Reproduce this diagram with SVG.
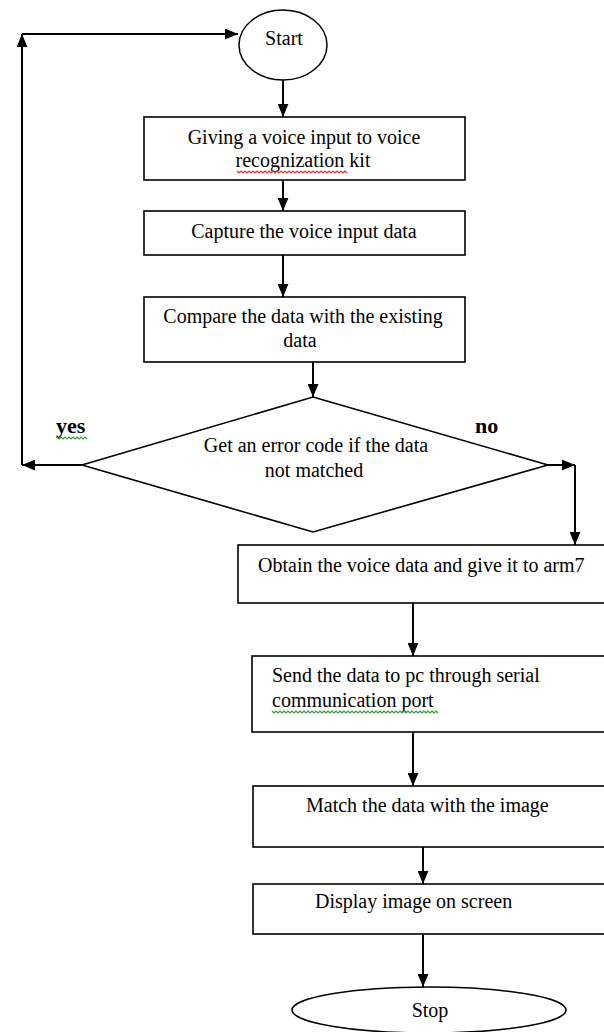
<svg xmlns="http://www.w3.org/2000/svg" width="604" height="1032" viewBox="0 0 604 1032">
  <style>
    .box { fill: #fff; stroke: #000; stroke-width: 1.6; }
    .term { fill: #fff; stroke: #000; stroke-width: 1.5; }
    .t { font-family: "Liberation Serif", "Times New Roman", serif; font-size: 20px; fill: #000; }
    .lbl { font-family: "Liberation Serif", "Times New Roman", serif; font-size: 22px; font-weight: bold; fill: #000; }
    .c { stroke: #000; stroke-width: 2; fill: none; }
    .sq { fill: none; stroke-width: 1.2; }
  </style>
  <defs>
    <marker id="arr" viewBox="0 0 12 10" refX="12" refY="5" markerWidth="13" markerHeight="11" markerUnits="userSpaceOnUse" orient="auto">
      <path d="M0,0 L12,5 L0,10 z" fill="#000"/>
    </marker>
  </defs>

  <g id="connectors">
    <path class="c" d="M283,79 L283,117" marker-end="url(#arr)"/>
    <path class="c" d="M283,180 L283,211" marker-end="url(#arr)"/>
    <path class="c" d="M283,255 L283,297" marker-end="url(#arr)"/>
    <path class="c" d="M313,362 L313,397" marker-end="url(#arr)"/>
    <path class="c" d="M82,465 L22,465" marker-end="url(#arr)"/>
    <path class="c" d="M22,465 L22,34" marker-end="url(#arr)"/>
    <path class="c" d="M22,34 L238,34" marker-end="url(#arr)"/>
    <path class="c" d="M548,465 L575,465" marker-end="url(#arr)"/>
    <path class="c" d="M575,465 L575,545" marker-end="url(#arr)"/>
    <path class="c" d="M413,603 L413,656" marker-end="url(#arr)"/>
    <path class="c" d="M413,732 L413,786" marker-end="url(#arr)"/>
    <path class="c" d="M423,847 L423,884" marker-end="url(#arr)"/>
    <path class="c" d="M423,934 L423,987" marker-end="url(#arr)"/>
  </g>

  <g id="start">
    <ellipse class="term" cx="283" cy="45" rx="44" ry="35"/>
    <text class="t" x="284" y="45" text-anchor="middle">Start</text>
  </g>

  <g id="giving">
    <rect class="box" x="144" y="117" width="321" height="63"/>
    <text class="t" x="304" y="144" text-anchor="middle">Giving a voice input to voice</text>
    <text class="t" x="303" y="167" text-anchor="middle">recognization kit</text>
    <path class="sq" stroke="#e03030" d="M237,171 l2,2 l2,-2 l2,2 l2,-2 l2,2 l2,-2 l2,2 l2,-2 l2,2 l2,-2 l2,2 l2,-2 l2,2 l2,-2 l2,2 l2,-2 l2,2 l2,-2 l2,2 l2,-2 l2,2 l2,-2 l2,2 l2,-2 l2,2 l2,-2 l2,2 l2,-2 l2,2 l2,-2 l2,2 l2,-2 l2,2 l2,-2 l2,2 l2,-2 l2,2 l2,-2 l2,2 l2,-2 l2,2 l2,-2 l2,2 l2,-2 l2,2 l2,-2 l2,2 l2,-2 l2,2 l2,-2 l2,2 l2,-2 l2,2 l2,-2 l2,2"/>
  </g>

  <g id="capture">
    <rect class="box" x="144" y="211" width="321" height="44"/>
    <text class="t" x="304" y="238" text-anchor="middle">Capture the voice input data</text>
  </g>

  <g id="compare">
    <rect class="box" x="144" y="297" width="321" height="65"/>
    <text class="t" x="303" y="323" text-anchor="middle">Compare the data with the existing</text>
    <text class="t" x="300" y="347" text-anchor="middle">data</text>
  </g>

  <g id="decision">
    <polygon class="box" points="313,397 548,465 313,532 82,465"/>
    <text class="t" x="316" y="452" text-anchor="middle">Get an error code if the data</text>
    <text class="t" x="314" y="477" text-anchor="middle">not matched</text>
  </g>

  <g id="labels">
    <text class="lbl" x="56" y="433">yes</text>
    <path class="sq" stroke="#3a9a3a" d="M57,437 l2,2 l2,-2 l2,2 l2,-2 l2,2 l2,-2 l2,2 l2,-2 l2,2 l2,-2 l2,2 l2,-2 l2,2 l2,-2 l2,2"/>
    <text class="lbl" x="475" y="433">no</text>
  </g>

  <g id="obtain">
    <rect class="box" x="238" y="545" width="370" height="58"/>
    <text class="t" x="258" y="572">Obtain the voice data and give it to arm7</text>
  </g>

  <g id="send">
    <rect class="box" x="252" y="656" width="356" height="76"/>
    <text class="t" x="272" y="682">Send the data to pc through serial</text>
    <text class="t" x="272" y="707">communication port</text>
    <path class="sq" stroke="#3a9a3a" d="M272,711 l2,2 l2,-2 l2,2 l2,-2 l2,2 l2,-2 l2,2 l2,-2 l2,2 l2,-2 l2,2 l2,-2 l2,2 l2,-2 l2,2 l2,-2 l2,2 l2,-2 l2,2 l2,-2 l2,2 l2,-2 l2,2 l2,-2 l2,2 l2,-2 l2,2 l2,-2 l2,2 l2,-2 l2,2 l2,-2 l2,2 l2,-2 l2,2 l2,-2 l2,2 l2,-2 l2,2 l2,-2 l2,2 l2,-2 l2,2 l2,-2 l2,2 l2,-2 l2,2 l2,-2 l2,2 l2,-2 l2,2 l2,-2 l2,2 l2,-2 l2,2 l2,-2 l2,2 l2,-2 l2,2 l2,-2 l2,2 l2,-2 l2,2 l2,-2 l2,2 l2,-2 l2,2 l2,-2 l2,2 l2,-2 l2,2 l2,-2 l2,2 l2,-2 l2,2 l2,-2 l2,2 l2,-2 l2,2 l2,-2 l2,2 l2,-2 l2,2"/>
  </g>

  <g id="match">
    <rect class="box" x="253" y="786" width="355" height="61"/>
    <text class="t" x="306" y="812">Match the data with the image</text>
  </g>

  <g id="display">
    <rect class="box" x="253" y="884" width="355" height="50"/>
    <text class="t" x="315" y="908">Display image on screen</text>
  </g>

  <g id="stop">
    <ellipse class="term" cx="429" cy="1010" rx="137" ry="23"/>
    <text class="t" x="430" y="1017" text-anchor="middle">Stop</text>
  </g>
</svg>
